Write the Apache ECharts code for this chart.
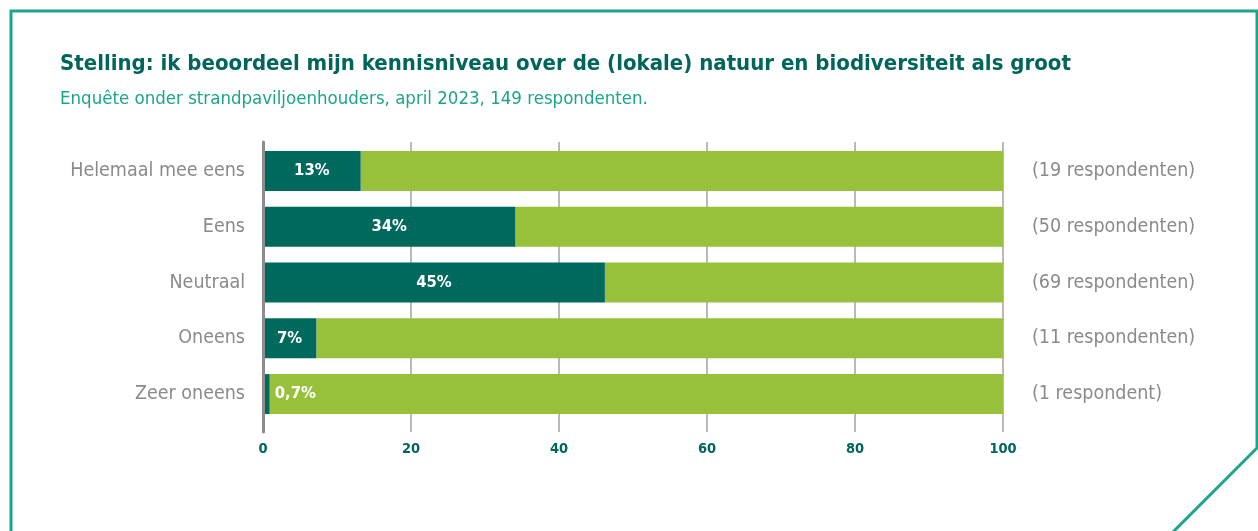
<!DOCTYPE html>
<html>
<head>
<meta charset="utf-8">
<script src="https://cdn.jsdelivr.net/npm/echarts@6/dist/echarts.min.js"></script>
<style>
html,body{margin:0;padding:0;background:#fff;}
#chart{width:1258px;height:531px;}
</style>
</head>
<body>
<div id="chart"></div>
<script>
const titleText = 'Stelling: ik beoordeel mijn kennisniveau over de (lokale) natuur en biodiversiteit als groot';
const subtitleText = 'Enquête onder strandpaviljoenhouders, april 2023, 149 respondenten.';
const categories = ['Helemaal mee eens', 'Eens', 'Neutraal', 'Oneens', 'Zeer oneens'];
const shareValues = [13.2, 34.1, 46.2, 7.2, 0.9];
const restValues = [86.8, 65.9, 53.8, 92.8, 99.1];
const pctLabels = ['13%', '34%', '45%', '7%', '0,7%'];
const respondentLabels = ['(19 respondenten)', '(50 respondenten)', '(69 respondenten)', '(11 respondenten)', '(1 respondent)'];
const xMin = 0, xMax = 100, xInterval = 20;

const FONT = '"DejaVu Sans Condensed", "Liberation Sans Narrow", "Roboto", sans-serif';
const DARK = '#00695e';
const GREEN = '#98c13b';
const TEAL = '#1ba58a';

const chart = echarts.init(document.getElementById('chart'), null, {renderer: 'canvas'});
const option = {
  backgroundColor: '#ffffff',
  animation: false,
  textStyle: {fontFamily: FONT},
  title: [
    {text: titleText, left: 55, top: 48,
     textStyle: {fontFamily: FONT, fontWeight: 'bold', fontSize: 22, color: '#00655a'}},
    {text: subtitleText, left: 55, top: 85,
     textStyle: {fontFamily: FONT, fontWeight: 'normal', fontSize: 18.5, color: TEAL}}
  ],
  graphic: [{
    type: 'polyline',
    shape: {points: [[11, 540], [11, 11], [1257, 11], [1257, 448], [1170, 535]]},
    style: {stroke: TEAL, lineWidth: 3, fill: null},
    silent: true
  }],
  grid: [
    {left: 263, right: 255, top: 142, bottom: 99, containLabel: false},
    {left: 263, right: 255, top: 143, height: 279, containLabel: false}
  ],
  xAxis: [
    {gridIndex: 0, type: 'value', min: xMin, max: xMax, interval: xInterval,
     axisLine: {show: false}, axisTick: {show: false},
     splitLine: {show: true, lineStyle: {color: '#b9b9b9', width: 2}},
     axisLabel: {margin: 10, fontFamily: FONT, fontWeight: 'bold', fontSize: 14.5, color: '#00655a'}},
    {gridIndex: 1, type: 'value', min: xMin, max: xMax, show: false}
  ],
  yAxis: [
    {gridIndex: 0, type: 'value', min: 0, max: 1, z: 5,
     axisLine: {show: true, lineStyle: {color: '#8c8c8c', width: 3}},
     axisTick: {show: false}, axisLabel: {show: false}, splitLine: {show: false}},
    {gridIndex: 1, type: 'category', inverse: true, data: categories, position: 'left',
     axisLine: {show: false}, axisTick: {show: false},
     axisLabel: {margin: 18, fontFamily: FONT, fontSize: 19.5, color: '#8a8a8a', padding: [2, 0, 0, 0]}},
    {gridIndex: 1, type: 'category', inverse: true, data: respondentLabels, position: 'right',
     axisLine: {show: false}, axisTick: {show: false},
     axisLabel: {margin: 29, fontFamily: FONT, fontSize: 19.5, color: '#8a8a8a', padding: [2, 0, 0, 0]}}
  ],
  series: [
    {type: 'bar', name: 'aandeel', xAxisIndex: 1, yAxisIndex: 1, stack: 't', barWidth: 40,
     itemStyle: {color: DARK},
     data: shareValues.map(v => v < 3 ? {value: v, label: {position: 'right', distance: 5}} : v),
     label: {show: true, position: 'inside', fontFamily: FONT, fontWeight: 'bold', fontSize: 16.5, color: '#ffffff',
       formatter: p => pctLabels[p.dataIndex]}},
    {type: 'bar', name: 'rest', xAxisIndex: 1, yAxisIndex: 1, stack: 't', barWidth: 40,
     itemStyle: {color: GREEN}, data: restValues, z: 1}
  ]
};
chart.setOption(option);
</script>
</body>
</html>
